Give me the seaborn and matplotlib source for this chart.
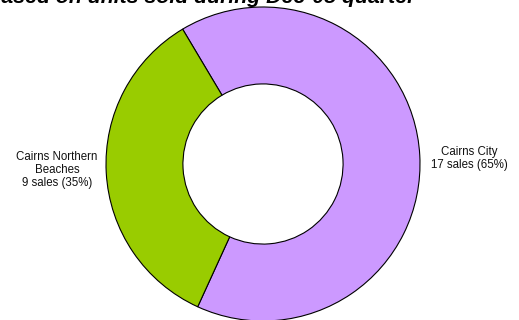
import matplotlib
matplotlib.use("Agg")
import matplotlib.pyplot as plt
import numpy as np
import seaborn as sns

sns.set_theme(style="white")
plt.rcParams['font.family'] = ['Liberation Sans', 'DejaVu Sans']

# data
regions = ["Cairns City", "Cairns Northern\nBeaches"]
sales = [17, 9]
colors = ["#CC99FF", "#99CC00"]
title = "Market share based on units sold during Dec-05 quarter"

total = sum(sales)
labels = [f"{r}\n{s} sales ({round(100*s/total)}%)" for r, s in zip(regions, sales)]

fig = plt.figure(figsize=(5.19, 3.2), dpi=100)
W, H = 519, 320
cx, cy, r = 263, 164, 157
ax = fig.add_axes([(cx - r) / W, (H - cy - r) / H, 2 * r / W, 2 * r / H])

wedges, _ = ax.pie(
    sales, colors=colors, startangle=120.8, counterclock=False,
    radius=1.0,
    wedgeprops=dict(width=0.49, edgecolor="black", linewidth=0.8),
)
for w, lab in zip(wedges, labels):
    mid = np.deg2rad((w.theta1 + w.theta2) / 2)
    ax.text(1.315 * np.cos(mid), 0.68 * np.sin(mid), lab, ha="center", va="center",
            fontsize=8.3, color="#111111", linespacing=1.1)
ax.set_xlim(-1, 1)
ax.set_ylim(-1, 1)
ax.set_aspect("equal")
ax.axis("off")

fig.text(415 / W, 1 - 3 / H, title, ha="right", va="baseline",
         fontsize=15.3, fontweight="bold", fontstyle="italic", color="black")

fig.savefig("out.png", dpi=100)
